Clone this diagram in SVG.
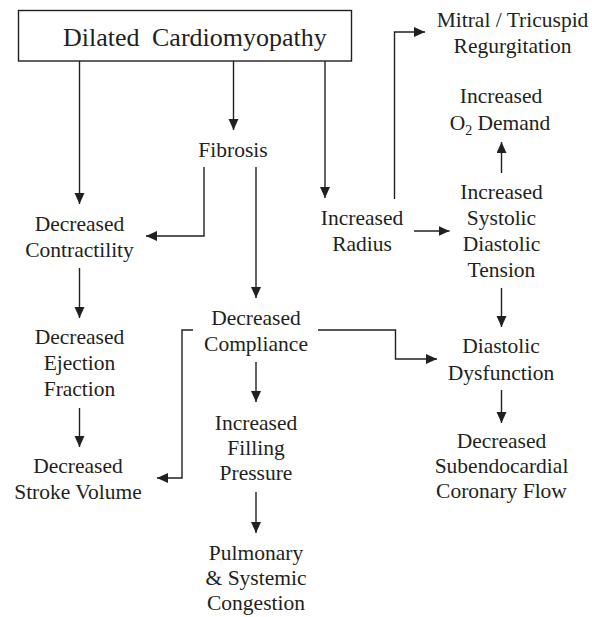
<svg xmlns="http://www.w3.org/2000/svg" width="592" height="617" viewBox="0 0 592 617">
<style>
text{font-family:'Liberation Serif','Times New Roman','DejaVu Serif',serif;font-size:21.5px;fill:#231f20;text-anchor:middle}
.c{fill:none;stroke:#231f20;stroke-width:1.4}
</style>
<defs>
<marker id="ah" markerUnits="userSpaceOnUse" markerWidth="12" markerHeight="11" refX="11" refY="5" orient="auto">
<path d="M0,0 L11,5 L0,10 z" fill="#231f20"/>
</marker>
</defs>
<rect width="592" height="617" fill="#fff"/>
<g id="dcm">
<rect x="18.5" y="10.5" width="333" height="50.5" fill="#fff" stroke="#231f20" stroke-width="1.4"/>
<text x="63" y="46" font-family="Liberation Serif, serif" style="text-anchor:start;font-size:26px;word-spacing:6px">Dilated Cardiomyopathy</text>
</g>
<g id="fibrosis"><text x="233" y="157">Fibrosis</text></g>
<g id="contractility"><text x="79.5" y="231">Decreased</text><text x="79.5" y="257">Contractility</text></g>
<g id="ejection"><text x="79.5" y="344">Decreased</text><text x="79.5" y="370">Ejection</text><text x="79.5" y="396">Fraction</text></g>
<g id="stroke"><text x="78" y="473">Decreased</text><text x="78" y="499">Stroke Volume</text></g>
<g id="compliance"><text x="256" y="325">Decreased</text><text x="256" y="351">Compliance</text></g>
<g id="filling"><text x="256" y="430">Increased</text><text x="256" y="455">Filling</text><text x="256" y="480">Pressure</text></g>
<g id="congestion"><text x="256" y="560">Pulmonary</text><text x="256" y="585">&amp; Systemic</text><text x="256" y="610">Congestion</text></g>
<g id="radius"><text x="362" y="225">Increased</text><text x="362" y="251">Radius</text></g>
<g id="mitral"><text x="512.5" y="27">Mitral / Tricuspid</text><text x="512.5" y="53">Regurgitation</text></g>
<g id="o2"><text x="501" y="103">Increased</text><text x="500" y="130">O<tspan dy="5" font-size="14">2</tspan><tspan dy="-5"> Demand</tspan></text></g>
<g id="tension"><text x="501.5" y="199">Increased</text><text x="501.5" y="225">Systolic</text><text x="501.5" y="251">Diastolic</text><text x="501.5" y="277">Tension</text></g>
<g id="diastolic"><text x="501" y="353">Diastolic</text><text x="501" y="380">Dysfunction</text></g>
<g id="coronary"><text x="501.5" y="448">Decreased</text><text x="501.5" y="473">Subendocardial</text><text x="501.5" y="498">Coronary Flow</text></g>
<g id="connectors" class="c">
<path class="c" d="M79.5,61 V204" marker-end="url(#ah)"/>
<path class="c" d="M233.5,61 V130" marker-end="url(#ah)"/>
<path class="c" d="M325,61 V198" marker-end="url(#ah)"/>
<path class="c" d="M204,167 V236 H146" marker-end="url(#ah)"/>
<path class="c" d="M256,167 V298" marker-end="url(#ah)"/>
<path class="c" d="M79.5,268 V318" marker-end="url(#ah)"/>
<path class="c" d="M79.5,408 V447" marker-end="url(#ah)"/>
<path class="c" d="M193,330 H182 V478 H157" marker-end="url(#ah)"/>
<path class="c" d="M256,362 V402" marker-end="url(#ah)"/>
<path class="c" d="M256,492 V533" marker-end="url(#ah)"/>
<path class="c" d="M394.5,199 V32 H425" marker-end="url(#ah)"/>
<path class="c" d="M414,231 H449.5" marker-end="url(#ah)"/>
<path class="c" d="M501.5,173 V142" marker-end="url(#ah)"/>
<path class="c" d="M501.5,288 V327" marker-end="url(#ah)"/>
<path class="c" d="M318,330 H395.5 V359 H437" marker-end="url(#ah)"/>
<path class="c" d="M501.5,390 V423" marker-end="url(#ah)"/>
</g>
</svg>
